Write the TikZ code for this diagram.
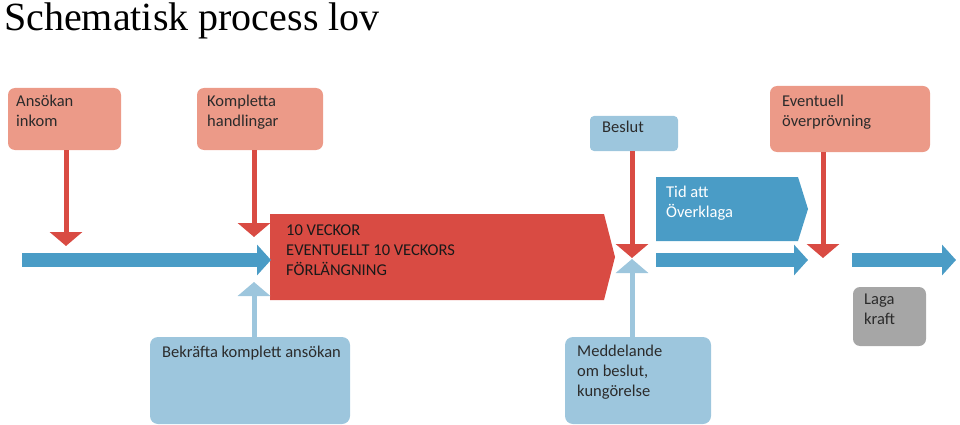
\documentclass[tikz,border=0pt]{standalone}
\usepackage{fontspec}
\setmainfont{Carlito}
\newfontfamily\titlefont{Liberation Serif}
\usetikzlibrary{arrows.meta}
\definecolor{salmon}{HTML}{EC9A88}
\definecolor{redd}{HTML}{D94B43}
\definecolor{blu}{HTML}{4A9CC6}
\definecolor{lblu}{HTML}{9DC6DD}
\definecolor{gry}{HTML}{A6A6A6}
\definecolor{txt}{HTML}{2B2B2B}
\tikzset{
 box/.style={inner sep=6pt,anchor=north west,align=left,text=txt,font=\fontsize{16.5}{20}\selectfont},
 redarrow/.style={draw=redd,line width=5pt,-{Triangle[width=32pt,length=14pt]}},
 uparrow/.style={draw=lblu,line width=5pt,-{Triangle[width=32pt,length=14pt]}},
 bluearrow/.style={draw=blu,line width=14pt,-{Triangle[width=30pt,length=14pt]}},
}
\begin{document}
\begin{tikzpicture}[x=1pt,y=-1pt]
\useasboundingbox (0,0) rectangle (960,425);
\node[anchor=north west,inner sep=0,font=\titlefont\fontsize{40}{44}\selectfont,text=black] (title) at (4,3) {Schematisk process lov};
% top boxes
\path[fill=salmon,rounded corners=7pt] (8,88) rectangle (121,150);
\node[box] (ans) at (10,89) {Ansökan\\inkom};
\path[fill=salmon,rounded corners=7pt] (197,88) rectangle (323,150);
\node[box] (kom) at (201,89) {Kompletta\\handlingar};
\path[fill=lblu,rounded corners=4pt] (590,116) rectangle (678,151);
\node[box] (bes) at (596,115) {Beslut};
\path[fill=salmon,rounded corners=7pt] (770,86) rectangle (930,152);
\node[box] (eve) at (776,89) {Eventuell\\överprövning};
% red pentagon
\path[fill=redd] (270,214) -- (604,214) -- (615,257) -- (604,300) -- (270,300) -- cycle;
\node[box,text=black!90] (wk) at (280,219) {10 VECKOR\\EVENTUELLT 10 VECKORS\\FÖRLÄNGNING};
% tid att överklaga
\path[fill=blu] (656,177) -- (798,177) -- (808,209) -- (798,241) -- (656,241) -- cycle;
\node[box,text=white] (tid) at (660,180) {Tid att\\Överklaga};
% coordinates
\coordinate (a1) at (66,246);
\coordinate (a2) at (254,237);
\coordinate (a3) at (632,258);
\coordinate (a4) at (823,258);
\coordinate (u1) at (254,282);
\coordinate (u2) at (632,259);
\coordinate (h1s) at (22,260); \coordinate (h1e) at (271,260);
\coordinate (h2s) at (656,260); \coordinate (h2e) at (808,260);
\coordinate (h3s) at (852,260); \coordinate (h3e) at (956,260);
\draw[bluearrow] (h1s) -- (h1e);
\draw[bluearrow] (h2s) -- (h2e);
\draw[bluearrow] (h3s) -- (h3e);
\draw[redarrow] (66,150) -- (a1);
\draw[redarrow] (254,150) -- (a2);
\draw[redarrow] (632,151) -- (a3);
\draw[redarrow] (823,152) -- (a4);
% bottom boxes
\path[fill=lblu,rounded corners=8pt] (150,337) rectangle (350,424);
\node[box] (bek) at (156,340) {Bekräfta komplett ansökan};
\path[fill=lblu,rounded corners=8pt] (565,337) rectangle (711,424);
\node[box] (med) at (571,339) {Meddelande\\om beslut,\\kungörelse};
\draw[uparrow] (254,337) -- (u1);
\draw[uparrow] (632,337) -- (u2);
% laga kraft
\path[fill=gry,rounded corners=7pt] (853,287) rectangle (926,346);
\node[box] (lag) at (858,288) {Laga\\kraft};
\end{tikzpicture}
\end{document}
